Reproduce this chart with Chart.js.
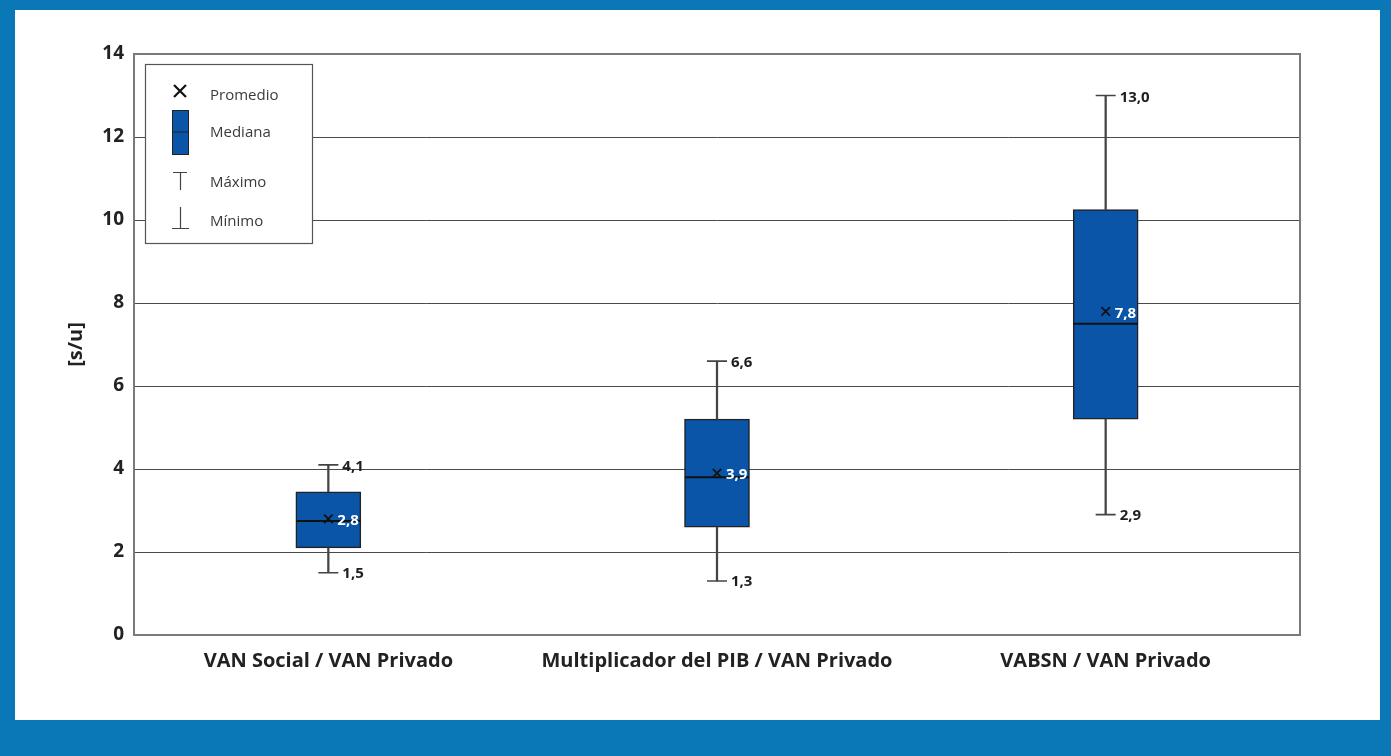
<!DOCTYPE html>
<html lang="es">
<head>
<meta charset="utf-8">
<title>Relaciones VAN</title>
<script src="https://cdn.jsdelivr.net/npm/chart.js@4.4.1/dist/chart.umd.min.js"></script>
<style>
  html, body { margin: 0; padding: 0; background: #0a77b6; width: 1391px; height: 756px; overflow: hidden; }
  #panel { position: absolute; left: 15px; top: 10px; width: 1365px; height: 710px; background: #ffffff; }
  canvas { display: block; }
</style>
</head>
<body>
<div id="panel"><canvas id="chart" width="1365" height="710"></canvas></div>
<script>
// Distribution of each ratio across the evaluated projects
const categorias = ['VAN Social / VAN Privado', 'Multiplicador del PIB / VAN Privado', 'VABSN / VAN Privado'];
const minimo   = [1.5, 1.3, 2.9];
const cuartil1 = [2.1, 2.6, 5.2];
const mediana  = [2.75, 3.8, 7.5];
const cuartil3 = [3.45, 5.2, 10.25];
const maximo   = [4.1, 6.6, 13.0];
const promedio = [2.8, 3.9, 7.8];
const ticksY   = [0, 2, 4, 6, 8, 10, 12, 14];

const AZUL = '#0a55a7';
const TINTA = '#1e1e1e';
const FUENTE = "'Open Sans', 'Noto Sans', sans-serif";
const fmt = v => v.toFixed(1).replace('.', ',');

// Whiskers, caps, medians and means are drawn through the same category/value scales.
const cajas = cuartil1.map((q, i) => [q, cuartil3[i]]);
const bigoteSup = cuartil3.map((q, i) => [q, maximo[i]]);
const bigoteInf = minimo.map((m, i) => [m, cuartil1[i]]);

const etiquetas = {
  id: 'etiquetas',
  afterDatasetsDraw(chart) {
    const { ctx, chartArea: a, scales: { x, y } } = chart;
    ctx.save();
    ctx.textBaseline = 'middle';
    ctx.textAlign = 'left';
    ctx.font = "bold 15px " + FUENTE;
    categorias.forEach((c, i) => {
      const cx = x.getPixelForValue(i);
      ctx.fillStyle = TINTA;
      ctx.fillText(fmt(maximo[i]), cx + 14, y.getPixelForValue(maximo[i]) + 2);
      ctx.fillText(fmt(minimo[i]), cx + 14, y.getPixelForValue(minimo[i]) + 1);
      ctx.fillStyle = '#ffffff';
      ctx.fillText(fmt(promedio[i]), cx + 9, y.getPixelForValue(promedio[i]) + 2);
    });

    // plot frame
    ctx.strokeStyle = '#7a7a7a';
    ctx.lineWidth = 2;
    ctx.strokeRect(a.left, a.top, a.right - a.left, a.bottom - a.top);

    // legend box
    const lx = a.left + 11, ly = a.top + 10, lw = 167, lh = 179;
    ctx.fillStyle = '#ffffff';
    ctx.fillRect(lx, ly, lw, lh);
    ctx.strokeStyle = '#555';
    ctx.lineWidth = 1.2;
    ctx.strokeRect(lx + 0.5, ly + 0.5, lw, lh);

    const ix = a.left + 46; // icon centre
    const tx = a.left + 76; // text start
    ctx.strokeStyle = '#111';
    // Promedio
    ctx.lineWidth = 2.2;
    ctx.beginPath();
    ctx.moveTo(ix - 6, a.top + 31); ctx.lineTo(ix + 6, a.top + 43);
    ctx.moveTo(ix + 6, a.top + 31); ctx.lineTo(ix - 6, a.top + 43);
    ctx.stroke();
    // Mediana
    ctx.fillStyle = AZUL;
    ctx.fillRect(ix - 8, a.top + 56, 16, 44);
    ctx.lineWidth = 1;
    ctx.strokeStyle = '#222';
    ctx.strokeRect(ix - 8 + 0.5, a.top + 56 + 0.5, 16, 44);
    ctx.beginPath();
    ctx.moveTo(ix - 8, a.top + 78); ctx.lineTo(ix + 8, a.top + 78);
    ctx.stroke();
    // Máximo
    ctx.strokeStyle = '#444';
    ctx.lineWidth = 1.2;
    ctx.beginPath();
    ctx.moveTo(ix - 7, a.top + 118.5); ctx.lineTo(ix + 7, a.top + 118.5);
    ctx.moveTo(ix + 0.5, a.top + 118); ctx.lineTo(ix + 0.5, a.top + 136);
    ctx.stroke();
    // Mínimo
    ctx.beginPath();
    ctx.moveTo(ix + 0.5, a.top + 153); ctx.lineTo(ix + 0.5, a.top + 174);
    ctx.moveTo(ix - 8, a.top + 174.5); ctx.lineTo(ix + 9, a.top + 174.5);
    ctx.stroke();

    ctx.fillStyle = '#3a3a3a';
    ctx.font = "15px " + FUENTE;
    ctx.fillText('Promedio', tx, a.top + 42);
    ctx.fillText('Mediana', tx, a.top + 79);
    ctx.fillText('Máximo', tx, a.top + 129);
    ctx.fillText('Mínimo', tx, a.top + 168);
    ctx.restore();
  }
};

new Chart(document.getElementById('chart'), {
  type: 'bar',
  data: {
    labels: categorias,
    datasets: [
      { type: 'line', label: 'Promedio', data: promedio, showLine: false, pointStyle: 'crossRot',
        pointRadius: 6, pointBorderWidth: 1.8, pointBorderColor: '#111', order: 1 },
      { type: 'line', label: 'Máximo', data: maximo, showLine: false, pointStyle: 'line',
        pointRadius: 10, pointBorderWidth: 1.6, pointBorderColor: '#444', order: 2 },
      { type: 'line', label: 'Mínimo', data: minimo, showLine: false, pointStyle: 'line',
        pointRadius: 10, pointBorderWidth: 1.6, pointBorderColor: '#444', order: 2 },
      { type: 'line', label: 'Mediana', data: mediana, showLine: false, pointStyle: 'line',
        pointRadius: 32, pointBorderWidth: 2, pointBorderColor: '#111', order: 3 },
      { label: 'Bigote superior', data: bigoteSup, grouped: false, barThickness: 1.6,
        backgroundColor: '#444', borderWidth: 0, order: 4 },
      { label: 'Bigote inferior', data: bigoteInf, grouped: false, barThickness: 1.6,
        backgroundColor: '#444', borderWidth: 0, order: 4 },
      { label: 'Caja', data: cajas, grouped: false, barThickness: 65, backgroundColor: AZUL,
        borderColor: '#222', borderWidth: 1.5, borderSkipped: false, order: 5 }
    ]
  },
  options: {
    responsive: false,
    animation: false,
    layout: { padding: { left: 0, top: 44, right: 80, bottom: 0 } },
    plugins: { legend: { display: false }, tooltip: { enabled: false } },
    scales: {
      x: {
        afterFit: s => { s.height = 85; },
        grid: { display: false, drawTicks: false },
        border: { display: true, color: '#7a7a7a', width: 2 },
        ticks: { color: '#222', padding: 14, font: { family: FUENTE, size: 20, weight: 'bold' } }
      },
      y: {
        min: 0, max: 14,
        afterFit: s => { s.width = 119; },
        afterBuildTicks: s => { s.ticks = ticksY.map(v => ({ value: v })); },
        grid: { color: '#4a4a4a', lineWidth: 1, drawTicks: false },
        border: { display: true, color: '#7a7a7a', width: 2 },
        ticks: { color: '#222', padding: 10, font: { family: FUENTE, size: 19, weight: 'bold' } },
        title: { display: true, text: '[s/u]', color: '#222', padding: { top: 49 },
                 font: { family: FUENTE, size: 20, weight: 'bold' } }
      }
    }
  },
  plugins: [etiquetas]
});
</script>
</body>
</html>
